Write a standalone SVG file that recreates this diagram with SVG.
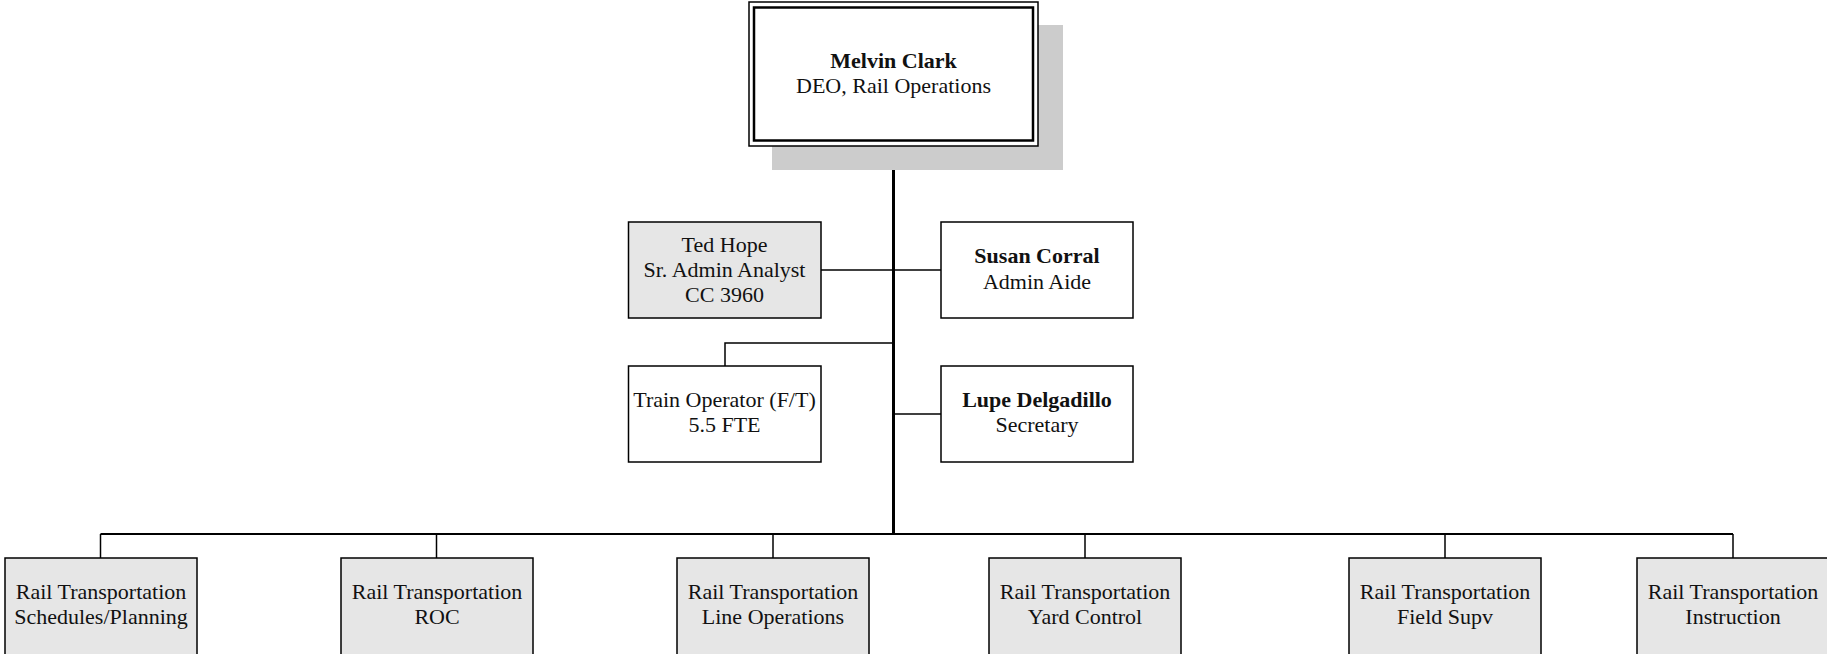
<svg xmlns="http://www.w3.org/2000/svg" width="1827" height="654" viewBox="0 0 1827 654">
<style>
.box{stroke:#000;stroke-width:1.5}
.w{fill:#fff}
.g{fill:#e6e6e6}
.t{font-family:"Liberation Serif","Times New Roman",serif;font-size:22px;fill:#111;text-anchor:middle}
.b{font-weight:bold}
.ln{stroke:#000;fill:none;stroke-width:1.5}
</style>
<rect width="1827" height="654" fill="#fff"/>
<g id="connectors">
<line x1="893.5" y1="146" x2="893.5" y2="535" stroke="#000" stroke-width="3"/>
<line x1="100.5" y1="534" x2="1733" y2="534" stroke="#000" stroke-width="2"/>
<polyline class="ln" points="100.5,534 100.5,558"/>
<polyline class="ln" points="436.5,534 436.5,558"/>
<polyline class="ln" points="773,534 773,558"/>
<polyline class="ln" points="1085,534 1085,558"/>
<polyline class="ln" points="1445,534 1445,558"/>
<polyline class="ln" points="1733,534 1733,558"/>
<line class="ln" x1="821" y1="270" x2="941" y2="270"/>
<polyline class="ln" points="893,343 725,343 725,366"/>
<line class="ln" x1="893" y1="414" x2="941" y2="414"/>
</g>
<g id="melvin">
<rect x="772" y="25" width="291" height="145" fill="#cccccc"/>
<rect x="749" y="2" width="289" height="144" fill="#fff" stroke="#000" stroke-width="1.5"/>
<rect x="754" y="7.5" width="279" height="133" fill="none" stroke="#000" stroke-width="2.5"/>
<text class="t b" x="893.5" y="68">Melvin Clark</text>
<text class="t" x="893.5" y="93">DEO, Rail Operations</text>
</g>
<g id="ted">
<rect class="box g" x="628.5" y="222" width="192.5" height="96"/>
<text class="t" x="724.5" y="252">Ted Hope</text>
<text class="t" x="724.5" y="277">Sr. Admin Analyst</text>
<text class="t" x="724.5" y="302">CC 3960</text>
</g>
<g id="susan">
<rect class="box w" x="941" y="222" width="192" height="96"/>
<text class="t b" x="1037" y="263">Susan Corral</text>
<text class="t" x="1037" y="289">Admin Aide</text>
</g>
<g id="train">
<rect class="box w" x="628.5" y="366" width="192.5" height="96"/>
<text class="t" x="724.5" y="407">Train Operator (F/T)</text>
<text class="t" x="724.5" y="432">5.5 FTE</text>
</g>
<g id="lupe">
<rect class="box w" x="941" y="366" width="192" height="96"/>
<text class="t b" x="1037" y="407">Lupe Delgadillo</text>
<text class="t" x="1037" y="432">Secretary</text>
</g>
<g id="rt-schedules">
<rect class="box g" x="5" y="558" width="192" height="98"/>
<text class="t" x="101" y="599">Rail Transportation</text>
<text class="t" x="101" y="624">Schedules/Planning</text>
</g>
<g id="rt-roc">
<rect class="box g" x="341" y="558" width="192" height="98"/>
<text class="t" x="437" y="599">Rail Transportation</text>
<text class="t" x="437" y="624">ROC</text>
</g>
<g id="rt-line">
<rect class="box g" x="677" y="558" width="192" height="98"/>
<text class="t" x="773" y="599">Rail Transportation</text>
<text class="t" x="773" y="624">Line Operations</text>
</g>
<g id="rt-yard">
<rect class="box g" x="989" y="558" width="192" height="98"/>
<text class="t" x="1085" y="599">Rail Transportation</text>
<text class="t" x="1085" y="624">Yard Control</text>
</g>
<g id="rt-field">
<rect class="box g" x="1349" y="558" width="192" height="98"/>
<text class="t" x="1445" y="599">Rail Transportation</text>
<text class="t" x="1445" y="624">Field Supv</text>
</g>
<g id="rt-instruction">
<rect class="box g" x="1637" y="558" width="192" height="98"/>
<text class="t" x="1733" y="599">Rail Transportation</text>
<text class="t" x="1733" y="624">Instruction</text>
</g>
</svg>
